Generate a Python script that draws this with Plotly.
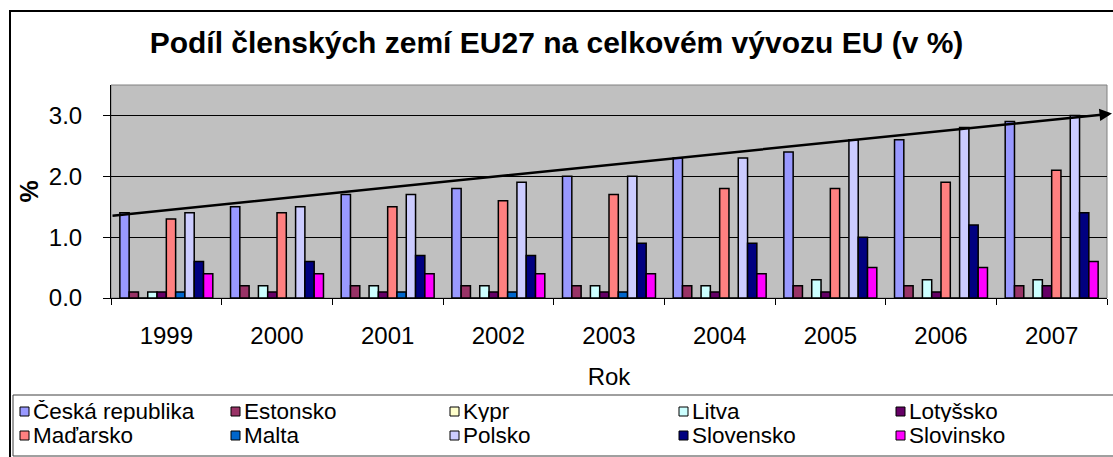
import plotly.graph_objects as go

# ---------------- data ----------------
years = ["1999", "2000", "2001", "2002", "2003", "2004", "2005", "2006", "2007"]

ceska_republika = [1.4, 1.5, 1.7, 1.8, 2.0, 2.3, 2.4, 2.6, 2.9]
estonsko        = [0.1, 0.2, 0.2, 0.2, 0.2, 0.2, 0.2, 0.2, 0.2]
kypr            = [0.0, 0.0, 0.0, 0.0, 0.0, 0.0, 0.0, 0.0, 0.0]
litva           = [0.1, 0.2, 0.2, 0.2, 0.2, 0.2, 0.3, 0.3, 0.3]
lotyssko        = [0.1, 0.1, 0.1, 0.1, 0.1, 0.1, 0.1, 0.1, 0.2]
madarsko        = [1.3, 1.4, 1.5, 1.6, 1.7, 1.8, 1.8, 1.9, 2.1]
malta           = [0.1, 0.0, 0.1, 0.1, 0.1, 0.0, 0.0, 0.0, 0.0]
polsko          = [1.4, 1.5, 1.7, 1.9, 2.0, 2.3, 2.6, 2.8, 3.0]
slovensko       = [0.6, 0.6, 0.7, 0.7, 0.9, 0.9, 1.0, 1.2, 1.4]
slovinsko       = [0.4, 0.4, 0.4, 0.4, 0.4, 0.4, 0.5, 0.5, 0.6]

series_names = ["Česká republika", "Estonsko", "Kypr", "Litva", "Lotyšsko",
                "Maďarsko", "Malta", "Polsko", "Slovensko", "Slovinsko"]
series_values = [ceska_republika, estonsko, kypr, litva, lotyssko,
                 madarsko, malta, polsko, slovensko, slovinsko]
series_colors = ["#9999FF", "#993366", "#FFFFCC", "#CCFFFF", "#660066",
                 "#FF8080", "#0066CC", "#CCCCFF", "#000080", "#FF00FF"]

y_ticks = [0.0, 1.0, 2.0, 3.0]
trend_start = 1.35   # value of the drawn trend arrow at the left edge
trend_end = 3.03     # value at the arrow tip

title_text = "Podíl členských zemí EU27 na celkovém vývozu EU (v %)"
x_title = "Rok"
y_title = "%"

# ---------------- layout geometry ----------------
W, H = 1113, 457
L, R, T, B = 111, 1107, 85, 298          # plot area in pixels
FONT = "Liberation Sans, Arial, sans-serif"


def px_x(px):
    return (px - L) / (R - L)


def px_y(py):
    return (B - py) / (B - T)


fig = go.Figure()
for name, vals, col in zip(series_names, series_values, series_colors):
    fig.add_trace(go.Bar(
        x=years, y=vals, name=name,
        marker=dict(color=col, line=dict(color="black", width=1.5)),
        showlegend=False,
    ))

shapes = []
annotations = []

# outer chart border
shapes.append(dict(type="rect", xref="paper", yref="paper",
                   x0=px_x(10), x1=px_x(1125), y0=px_y(470), y1=px_y(11),
                   line=dict(color="black", width=2), layer="below"))
# plot area frame (grey)
shapes.append(dict(type="rect", xref="paper", yref="paper",
                   x0=0, x1=1, y0=0, y1=1,
                   line=dict(color="#808080", width=1), layer="below"))
# legend box
shapes.append(dict(type="rect", xref="paper", yref="paper",
                   x0=px_x(13), x1=px_x(1125), y0=px_y(456), y1=px_y(395),
                   line=dict(color="#404040", width=1)))

# manual legend (2 rows x 5 columns)
col_x = [20, 231, 450, 679, 896]
row_y = [411, 435]
for i, (name, col) in enumerate(zip(series_names, series_colors)):
    cx = col_x[i % 5]
    cy = row_y[i // 5]
    shapes.append(dict(type="rect", xref="paper", yref="paper",
                       x0=px_x(cx), x1=px_x(cx + 9),
                       y0=px_y(cy + 5), y1=px_y(cy - 4),
                       fillcolor=col, line=dict(color="black", width=1)))
    annotations.append(dict(xref="paper", yref="paper",
                            x=px_x(cx + 11), y=px_y(cy),
                            xanchor="left", yanchor="middle",
                            text=name, showarrow=False, height=22,
                            font=dict(family=FONT, size=22.5, color="black")))

# trend arrow
annotations.append(dict(xref="x domain", yref="y", axref="x domain", ayref="y",
                        x=px_x(1112), y=trend_end, ax=0, ay=trend_start,
                        text="", showarrow=True, arrowhead=2, arrowsize=1,
                        arrowwidth=2.5, arrowcolor="black"))

fig.update_layout(
    width=W, height=H,
    margin=dict(l=L, r=W - R, t=T, b=H - B, pad=0),
    paper_bgcolor="white",
    plot_bgcolor="#C0C0C0",
    barmode="group", bargap=0.16, bargroupgap=0,
    font=dict(family=FONT, size=24, color="black"),
    title=dict(text="<b>" + title_text + "</b>", x=0.5, xref="container", xanchor="center",
               y=1 - 42 / H, yref="container", yanchor="middle",
               font=dict(family=FONT, size=30, color="black")),
    shapes=shapes,
    annotations=annotations,
    showlegend=False,
)

fig.update_xaxes(
    type="category", categoryorder="array", categoryarray=years,
    tickson="boundaries", ticks="outside", ticklen=6, tickcolor="black", tickwidth=1,
    showline=True, linecolor="black", linewidth=1, showgrid=False,
    ticklabelstandoff=16,
    tickfont=dict(family=FONT, size=24, color="black"),
    title=dict(text=x_title, standoff=20, font=dict(family=FONT, size=24, color="black")),
)
fig.update_yaxes(
    range=[0, 3.5], tickvals=y_ticks, tickformat=".1f",
    ticks="outside", ticklen=7, tickcolor="black", tickwidth=1,
    showline=True, linecolor="black", linewidth=1,
    showgrid=True, gridcolor="black", gridwidth=1, zeroline=False,
    ticklabelstandoff=16,
    tickfont=dict(family=FONT, size=24, color="black"),
    title=dict(text="<b>" + y_title + "</b>", standoff=3, font=dict(family=FONT, size=25, color="black")),
)

fig.write_html("out.html", config={"displayModeBar": False},
               post_script="document.body.style.margin='0px';")
